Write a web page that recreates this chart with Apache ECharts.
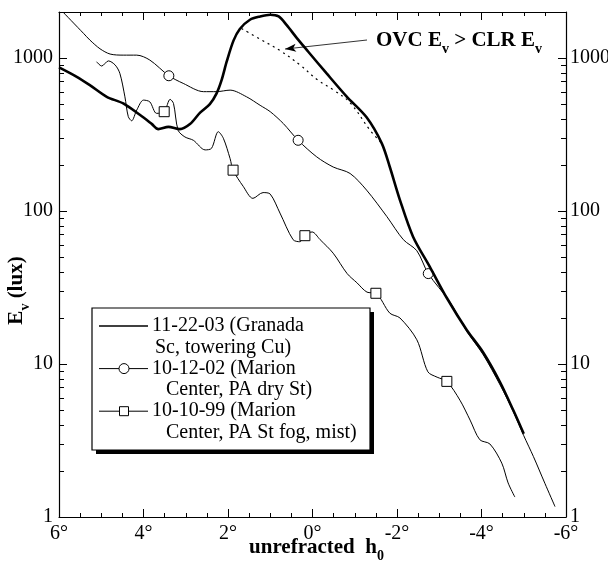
<!DOCTYPE html>
<html>
<head>
<meta charset="utf-8">
<script src="https://cdn.jsdelivr.net/npm/echarts@6/dist/echarts.min.js"></script>
<style>
html, body { margin: 0; padding: 0; background: #fff; }
#chart { width: 608px; height: 568px; }
</style>
</head>
<body>
<div id="chart"></div>
<script>
// unrefracted sun altitude (deg) and illuminance Ev (lux)
var granadaX = [6.0, 5.6, 5.27, 4.87, 4.48, 4.08, 3.8, 3.65, 3.41, 3.14, 2.9, 2.66, 2.43, 2.27, 2.15, 2.03, 1.87, 1.72, 1.48, 1.24, 1.0, 0.8, 0.61, 0.37, 0.1, -0.34, -0.81, -1.28, -1.64, -1.83, -2.07, -2.38, -2.78, -3.18, -3.65, -4.04, -4.44, -4.75, -5.0];
var granadaY = [870, 760, 665, 558, 505, 424, 370, 343, 355, 343, 370, 440, 500, 588, 720, 950, 1300, 1550, 1780, 1870, 1920, 1870, 1640, 1350, 1100, 790, 560, 410, 277, 194, 118, 68, 43, 27, 16.7, 11.9, 7.6, 5.0, 3.5];

var dryStX = [5.9, 5.42, 5.27, 5.03, 4.79, 4.48, 4.16, 3.85, 3.4, 3.06, 2.58, 2.27, 1.95, 1.56, 1.24, 1.0, 0.69, 0.34, -0.1, -0.49, -0.89, -1.28, -1.76, -2.15, -2.47, -2.74, -3.25, -3.65, -4.04, -4.44, -4.75, -5.0, -5.23, -5.5, -5.74];
var dryStY = [1990, 1450, 1312, 1150, 1062, 1045, 1045, 970, 766, 683, 603, 603, 617, 558, 491, 446, 373, 290, 226, 194, 176, 137, 92, 65, 55, 39, 25.5, 16.4, 11.5, 7.3, 4.9, 3.4, 2.48, 1.66, 1.17];
var dryStMarks = [8, 17, 25];

var fogX = [5.11, 4.99, 4.83, 4.67, 4.56, 4.44, 4.36, 4.28, 4.16, 4.0, 3.85, 3.69, 3.51, 3.37, 3.29, 3.18, 3.02, 2.82, 2.54, 2.39, 2.23, 2.11, 1.95, 1.88, 1.64, 1.41, 1.17, 1.0, 0.77, 0.46, 0.3, 0.18, 0.01, -0.18, -0.49, -0.82, -1.05, -1.29, -1.5, -1.83, -2.07, -2.47, -2.73, -2.95, -3.18, -3.49, -3.73, -3.96, -4.2, -4.48, -4.63, -4.79];
var fogY = [946, 887, 958, 900, 795, 558, 414, 389, 457, 531, 517, 435, 446, 537, 505, 337, 305, 290, 251, 257, 330, 299, 220, 185, 145, 121, 132, 129, 97, 65, 63, 69, 73, 65, 53, 39, 34, 29.5, 29, 21.5, 20, 14.4, 8.9, 8.2, 7.7, 5.8, 4.3, 3.2, 3.0, 2.25, 1.67, 1.35];
var fogMarks = [12, 23, 31, 38, 44];

// clear-sky reference curve (dotted)
var clearX = [1.68, 1.2, 0.77, 0.3, -0.12, -0.5, -0.89, -1.36, -1.64];
var clearY = [1560, 1310, 1120, 903, 720, 617, 510, 338, 277];

// annotation arrow, tail and head in data units
var arrowFrom = [-1.29, 1312];
var arrowTo = [0.65, 1145];

var yMajor = [1, 10, 100, 1000];
var yMinor = [2, 3, 4, 5, 6, 7, 8, 9, 20, 30, 40, 50, 60, 70, 80, 90, 200, 300, 400, 500, 600, 700, 800, 900];

var legendNames = ['11-22-03 (Granada', '10-12-02 (Marion', '10-10-99 (Marion'];
var legendSecond = ['Sc, towering Cu)', 'Center, PA dry St)', 'Center, PA St fog, mist)'];

var serif = 'Liberation Serif';

function pairs(xs, ys, marks) {
	var out = [];
	for (var i = 0; i < xs.length; i++) {
		var item = { value: [xs[i], ys[i]] };
		if (marks && marks.indexOf(i) < 0) {
			item.symbol = 'none';
		}
		out.push(item);
	}
	return out;
}

function xAxisDef(pos, labels) {
	return {
		type: 'value',
		position: pos,
		min: -6,
		max: 6,
		interval: 2,
		inverse: true,
		axisLine: { onZero: false, lineStyle: { color: '#000', width: 1.2 } },
		axisTick: { inside: true, length: 8, lineStyle: { color: '#000', width: 1 } },
		minorTick: { show: true, splitNumber: 4, length: 4, lineStyle: { color: '#000', width: 1 } },
		axisLabel: {
			show: labels,
			margin: 7,
			color: '#000',
			fontFamily: serif,
			fontSize: 20,
			formatter: function (v) { return v + '°'; }
		},
		splitLine: { show: false }
	};
}

function yAxisDef(pos, values, len, line, labels) {
	return {
		type: 'log',
		logBase: 10,
		position: pos,
		min: 1,
		max: 2000,
		axisLine: { show: line, onZero: false, lineStyle: { color: '#000', width: 1.2 } },
		axisTick: { inside: true, length: len, customValues: values, lineStyle: { color: '#000', width: 1 } },
		axisLabel: {
			show: labels,
			customValues: yMajor,
			margin: pos === 'left' ? 6 : 4,
			color: '#000',
			fontFamily: serif,
			fontSize: 20,
			formatter: function (v) { return yMajor.indexOf(v) >= 0 ? String(v) : ''; }
		},
		splitLine: { show: false },
		minorTick: { show: false }
	};
}

var subRich = {
	b: { fontFamily: serif, fontWeight: 'bold', fontSize: 21, lineHeight: 30, color: '#000' },
	s: { fontFamily: serif, fontWeight: 'bold', fontSize: 14, lineHeight: 12, verticalAlign: 'bottom', color: '#000' }
};

var yLeft = yAxisDef('left', yMajor, 8, true, true);
yLeft.name = '{b|E}{s|v}{b| (lux)}';
yLeft.nameLocation = 'middle';
yLeft.nameGap = 27;
yLeft.nameMoveOverlap = false;
yLeft.nameTextStyle = { rich: subRich, padding: [0, 52, 0, 0] };

var xBottom = xAxisDef('bottom', true);
xBottom.name = '{b|unrefracted  h}{s|0}';
xBottom.nameLocation = 'middle';
xBottom.nameGap = 16;
xBottom.nameMoveOverlap = false;
xBottom.nameTextStyle = { rich: subRich, padding: [0, 0, 0, 8] };

// hand drawn legend box with a solid drop shadow
var legendLeft = 92, legendTop = 308, rowH = 21.3;
var legendItems = [
	{ type: 'rect', shape: { x: legendLeft + 4, y: legendTop + 4, width: 278, height: 142 }, style: { fill: '#000' } },
	{ type: 'rect', shape: { x: legendLeft, y: legendTop, width: 278, height: 142 }, style: { fill: '#fff', stroke: '#000', lineWidth: 1.2 } }
];
for (var k = 0; k < 3; k++) {
	var cy = legendTop + 18 + k * 2 * rowH;
	legendItems.push({ type: 'line', shape: { x1: legendLeft + 7, y1: cy, x2: legendLeft + 56, y2: cy }, style: { stroke: '#000', lineWidth: k === 0 ? 1.6 : 1 } });
	legendItems.push({ type: 'text', x: legendLeft + 60, y: cy, style: { text: legendNames[k], fill: '#000', font: '20px "Liberation Serif"', verticalAlign: 'middle' } });
	legendItems.push({ type: 'text', x: legendLeft + (k === 0 ? 63 : 74), y: cy + rowH, style: { text: legendSecond[k], fill: '#000', font: '20px "Liberation Serif"', verticalAlign: 'middle' } });
}
legendItems.push({ type: 'circle', shape: { cx: legendLeft + 32, cy: legendTop + 18 + 2 * rowH, r: 5 }, style: { fill: '#fff', stroke: '#000', lineWidth: 1 } });
legendItems.push({ type: 'rect', shape: { x: legendLeft + 27.5, y: legendTop + 18 + 4 * rowH - 4.5, width: 9, height: 9 }, style: { fill: '#fff', stroke: '#000', lineWidth: 1 } });

var option = {
	backgroundColor: '#fff',
	animation: false,
	grid: { left: 59, right: 42, top: 12, bottom: 51, containLabel: false, outerBoundsMode: 'none' },
	xAxis: [xBottom, xAxisDef('top', false)],
	yAxis: [
		yLeft,
		yAxisDef('left', yMinor, 5, false, false),
		yAxisDef('right', yMajor, 8, true, true),
		yAxisDef('right', yMinor, 5, false, false)
	],
	series: [
		{
			name: '11-22-03',
			type: 'line',
			data: pairs(granadaX, granadaY),
			symbol: 'none',
			smooth: 0.3,
			lineStyle: { color: '#000', width: 2.6 },
			silent: true,
			z: 4
		},
		{
			name: '10-12-02',
			type: 'line',
			data: pairs(dryStX, dryStY, dryStMarks),
			symbol: 'circle',
			symbolSize: 10,
			showSymbol: true,
			showAllSymbol: true,
			smooth: 0.3,
			lineStyle: { color: '#000', width: 1 },
			itemStyle: { color: '#fff', borderColor: '#000', borderWidth: 1 },
			silent: true,
			z: 3
		},
		{
			name: '10-10-99',
			type: 'line',
			data: pairs(fogX, fogY, fogMarks),
			symbol: 'rect',
			symbolSize: 10,
			showSymbol: true,
			showAllSymbol: true,
			smooth: 0.3,
			lineStyle: { color: '#000', width: 1 },
			itemStyle: { color: '#fff', borderColor: '#000', borderWidth: 1 },
			silent: true,
			z: 3
		},
		{
			name: 'CLR',
			type: 'line',
			data: pairs(clearX, clearY),
			symbol: 'none',
			smooth: 0.4,
			lineStyle: { color: '#000', width: 1.2, type: [2, 4] },
			silent: true,
			z: 2,
			markLine: {
				silent: true,
				symbol: ['none', 'arrow'],
				symbolSize: [6, 11],
				label: { show: false },
				lineStyle: { color: '#000', width: 0.8, type: 'solid' },
				data: [[{ coord: arrowFrom }, { coord: arrowTo }]]
			}
		}
	],
	graphic: [
		{
			type: 'text',
			left: 376,
			top: 30,
			style: {
				text: '{b|OVC E}{s|v}{b| > CLR E}{s|v}',
				rich: {
					b: { fontFamily: serif, fontWeight: 'bold', fontSize: 21, lineHeight: 32, fill: '#000' },
					s: { fontFamily: serif, fontWeight: 'bold', fontSize: 14, lineHeight: 12, verticalAlign: 'bottom', fill: '#000' }
				}
			}
		},
		{ type: 'group', children: legendItems }
	]
};

var chart = echarts.init(document.getElementById('chart'));
chart.setOption(option);
</script>
</body>
</html>
